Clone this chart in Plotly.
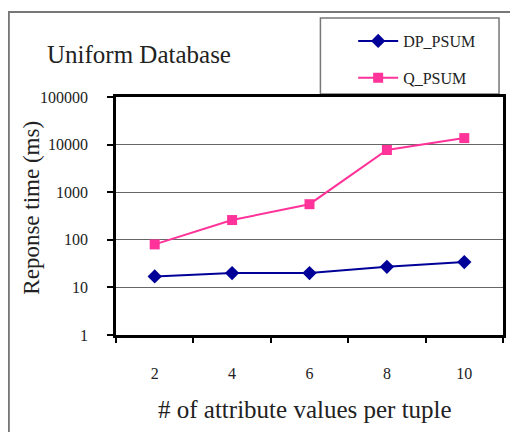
import plotly.graph_objects as go

x_vals = [2, 4, 6, 8, 10]
dp_psum = [17, 20, 20, 27, 34]
q_psum = [80, 260, 560, 7700, 13700]
y_tick_vals = [1, 10, 100, 1000, 10000, 100000]
y_tick_text = ["1", "10", "100", "1000", "10000", "100000"]

OFF = 8  # page body margin
W, H = 518 - OFF, 432 - OFF
L, R, T, B = 116, 506, 97, 335   # page pixel coords of plot area
def px(x): return (x - L) / (R - L)
def py(y): return (B - y) / (B - T)

font = "Liberation Serif, Times New Roman, serif"

fig = go.Figure()
fig.add_trace(go.Scatter(x=x_vals, y=dp_psum, name="DP_PSUM", mode="lines+markers",
                         legendgroup="a",
                         line=dict(color="#000099", width=2),
                         marker=dict(symbol="diamond", size=11, color="#000099")))
fig.add_trace(go.Scatter(x=x_vals, y=q_psum, name="Q_PSUM", mode="lines+markers",
                         legendgroup="b",
                         line=dict(color="#FF3399", width=2),
                         marker=dict(symbol="square", size=10, color="#FF3399")))

shapes = [
    dict(type="rect", xref="paper", yref="paper", x0=px(8), x1=px(530), y0=py(445), y1=py(12),
         line=dict(color="#777", width=2), layer="below"),
    dict(type="rect", xref="paper", yref="paper", x0=px(322), x1=px(502), y0=py(94), y1=py(18),
         line=dict(color="#777", width=1.5), fillcolor="white", layer="below"),
]

annotations = [
    dict(text="Uniform Database", xref="paper", yref="paper", x=px(44), y=py(55),
         xanchor="left", yanchor="middle", showarrow=False,
         font=dict(family=font, size=25, color="#222")),
    dict(text="Reponse time (ms)", xref="paper", yref="paper", x=px(30), y=py(208),
         xanchor="center", yanchor="middle", textangle=-90, showarrow=False,
         font=dict(family=font, size=23, color="#222")),
    dict(text="# of attribute values per tuple", xref="paper", yref="paper", x=px(306), y=py(409),
         xanchor="center", yanchor="middle", showarrow=False,
         font=dict(family=font, size=25, color="#222")),
]

fig.update_layout(
    width=W, height=H,
    margin=dict(l=L - OFF, r=W - (R - OFF), t=T - OFF, b=H - (B - OFF), pad=0),
    paper_bgcolor="white", plot_bgcolor="white",
    font=dict(family=font, size=16, color="#222"),
    showlegend=True,
    legend=dict(x=px(355), y=py(24), xanchor="left", yanchor="top",
                bgcolor="rgba(0,0,0,0)", borderwidth=0,
                font=dict(family=font, size=16, color="#222"),
                tracegroupgap=13, itemwidth=40),
    shapes=shapes, annotations=annotations,
    xaxis=dict(range=[1, 11], tickvals=x_vals, ticktext=[str(v) for v in x_vals],
               ticks="", ticklabelstandoff=22, showgrid=False, zeroline=False,
               showline=True, linecolor="black", linewidth=2.5, mirror=True,
               minor=dict(tickvals=[1, 3, 5, 7, 9, 11], ticks="outside", ticklen=5,
                          tickcolor="black", tickwidth=1.5, showgrid=False)),
    yaxis=dict(type="log", range=[0, 5], tickvals=y_tick_vals, ticktext=y_tick_text,
               ticks="outside", ticklen=6, tickcolor="black", tickwidth=1.5,
               ticklabelstandoff=16,
               showgrid=True, gridcolor="#666", gridwidth=1.2, zeroline=False,
               showline=True, linecolor="black", linewidth=2.5, mirror=True),
)

fig.write_html("out.html")
